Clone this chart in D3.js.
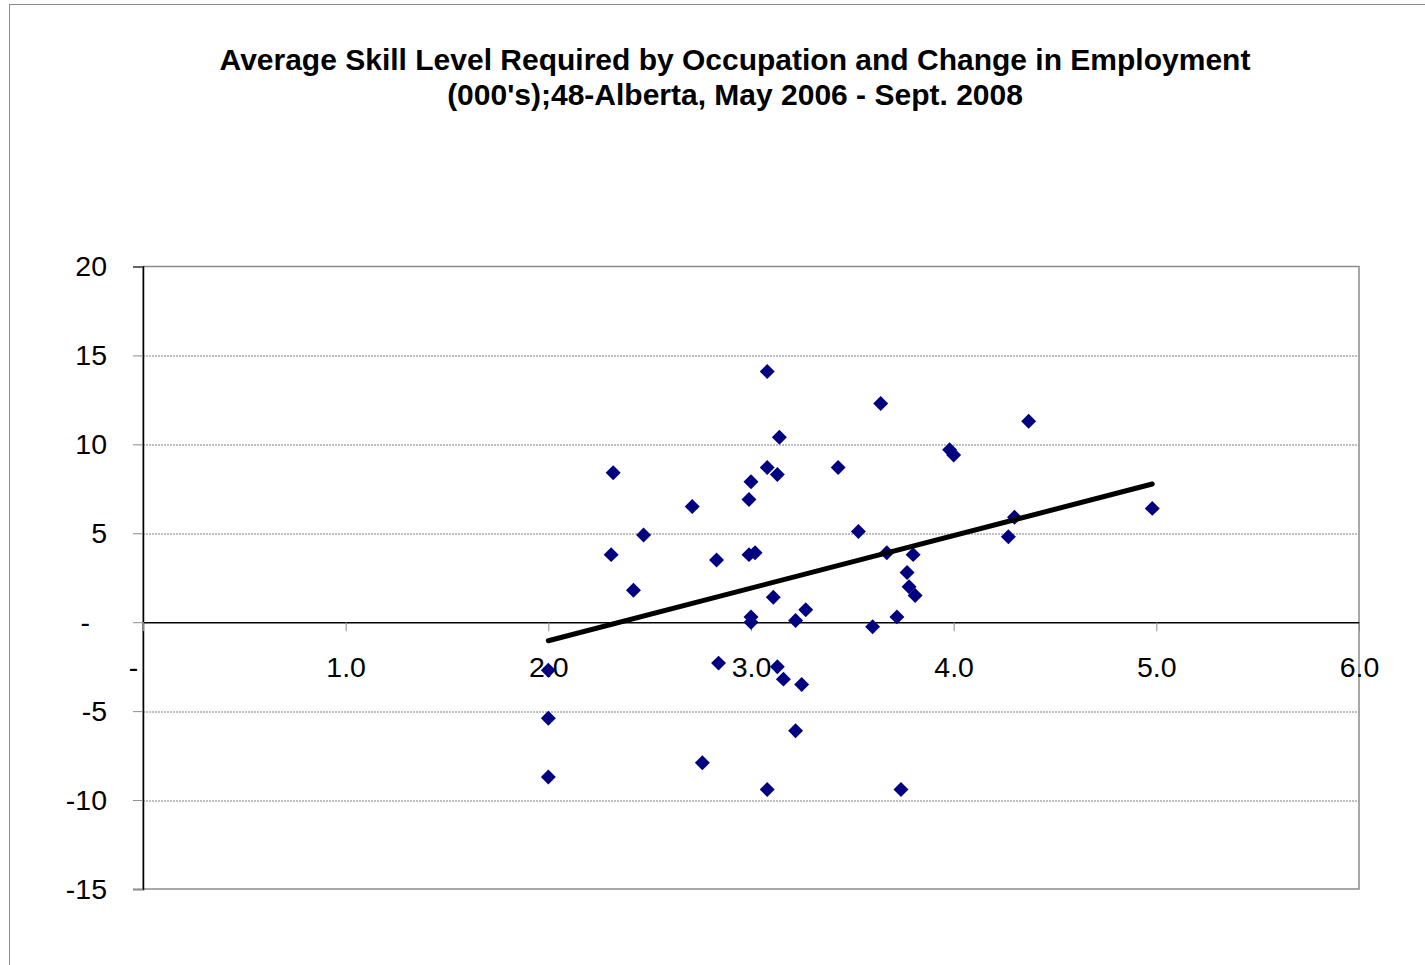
<!DOCTYPE html>
<html>
<head>
<meta charset="utf-8">
<script src="https://cdn.jsdelivr.net/npm/d3@7"></script>
<style>
    body { margin: 0; background: #fff; }
    text { font-family: "Liberation Sans", Arial, sans-serif; }
</style>
</head>
<body>
<div class="canvas"></div>
<script>
// skill level (x) and change in employment, 000's (y)
const skillLevel = [
    3.08, 3.64, 4.37, 3.14, 3.98, 4.0, 2.32, 3.08, 3.13, 3.43,
    3.0, 2.99, 2.71, 4.98, 4.3, 3.53, 2.47, 4.27, 2.31, 2.99,
    3.02, 2.83, 3.67, 3.8, 3.77, 2.42, 3.78, 3.81, 3.11, 3.27,
    3.0, 3.0, 3.22, 3.72, 3.6, 2.0, 2.84, 3.13, 3.16, 3.25,
    2.0, 3.22, 2.0, 2.76, 3.08, 3.74
];
const empChange = [
    14.1, 12.3, 11.3, 10.4, 9.7, 9.4, 8.4, 8.7, 8.3, 8.7,
    7.9, 6.9, 6.5, 6.4, 5.9, 5.1, 4.9, 4.8, 3.8, 3.8,
    3.9, 3.5, 3.9, 3.8, 2.8, 1.8, 2.0, 1.5, 1.4, 0.7,
    0.3, 0.0, 0.1, 0.3, -0.25, -2.7, -2.3, -2.5, -3.2, -3.5,
    -5.4, -6.1, -8.7, -7.9, -9.4, -9.4
];
// linear trend line end points
const trendX = [2.0, 4.98];
const trendY = [-1.04, 7.77];

const xTicks = [0, 1, 2, 3, 4, 5, 6];
const yTicks = [-15, -10, -5, 0, 5, 10, 15, 20];
const titleLines = [
    "Average Skill Level Required by Occupation and Change in Employment",
    "(000's);48-Alberta, May 2006 - Sept. 2008"
];

const width = 1425, height = 965;
const margin = { left: 143, right: 66, top: 266.5, bottom: 76 };
const chartDims = {
    width: width - margin.left - margin.right,
    height: height - margin.top - margin.bottom,
};

const svg = d3.select(".canvas")
    .append("svg")
    .attr("width", width)
    .attr("height", height);

// outer chart frame
svg.append("rect")
    .attr("x", 9.5).attr("y", 4.5)
    .attr("width", width).attr("height", height)
    .attr("fill", "#fff")
    .attr("stroke", "#8c8c8c")
    .attr("stroke-width", 1);

svg.append("g")
    .selectAll("text")
    .data(titleLines)
    .enter()
    .append("text")
    .attr("x", 735)
    .attr("y", (d, i) => 70 + i * 35)
    .attr("text-anchor", "middle")
    .attr("font-size", 30)
    .attr("font-weight", "bold")
    .text((d) => d);

const chart = svg.append("g")
    .attr("transform", `translate(${margin.left},${margin.top})`);

const x = d3.scaleLinear().domain([0, 6]).range([0, chartDims.width]);
const y = d3.scaleLinear().domain([-15, 20]).range([chartDims.height, 0]);

// dotted gridlines
chart.append("g")
    .selectAll("line")
    .data(yTicks.filter((d) => d !== 0 && d !== -15 && d !== 20))
    .enter()
    .append("line")
    .attr("x1", 0).attr("x2", chartDims.width)
    .attr("y1", (d) => Math.round(y(d)) + 0.5)
    .attr("y2", (d) => Math.round(y(d)) + 0.5)
    .attr("stroke", "#808080")
    .attr("stroke-dasharray", "2,1");

// plot area border
chart.append("rect")
    .attr("x", 0).attr("y", 0)
    .attr("width", chartDims.width).attr("height", chartDims.height)
    .attr("fill", "none")
    .attr("stroke", "#8c8c8c")
    .attr("stroke-width", 1.5);

// y axis
const yAxis = d3.axisLeft(y)
    .tickValues(yTicks)
    .tickSize(10)
    .tickPadding(26)
    .tickFormat((d) => (d === 0 ? "-" : d));
const yAxisGroup = chart.append("g").call(yAxis);
yAxisGroup.select(".domain").attr("stroke", "#000").attr("stroke-width", 1.5);
yAxisGroup.selectAll(".tick line").attr("stroke", "#8c8c8c");
yAxisGroup.selectAll("text")
    .attr("font-size", 28.5)
    .attr("font-family", "Liberation Sans, Arial, sans-serif")
    .attr("fill", "#000")
    .attr("dx", (d) => (d === 0 ? -17 : 0));

// x axis at zero
const xAxis = d3.axisBottom(x)
    .tickValues(xTicks)
    .tickSize(9)
    .tickSizeOuter(0)
    .tickPadding(26)
    .tickFormat((d) => (d === 0 ? "-" : d3.format(".1f")(d)));
const xAxisGroup = chart.append("g")
    .attr("transform", `translate(0,${y(0)})`)
    .call(xAxis);
xAxisGroup.select(".domain").attr("stroke", "#000").attr("stroke-width", 1.5);
xAxisGroup.selectAll(".tick line").attr("stroke", "#8c8c8c");
xAxisGroup.selectAll("text")
    .attr("font-size", 28.5)
    .attr("font-family", "Liberation Sans, Arial, sans-serif")
    .attr("fill", "#000")
    .attr("dx", (d) => (d === 0 ? -10 : 0));

// points
const points = skillLevel.map((d, i) => ({ x: d, y: empChange[i] }));
const diamond = d3.symbol().type(d3.symbolSquare).size(112);

chart.append("g")
    .selectAll("path")
    .data(points)
    .enter()
    .append("path")
    .attr("d", diamond)
    .attr("transform", (d) => `translate(${x(d.x)},${y(d.y)}) rotate(45)`)
    .attr("fill", "#000080");

// trend line
const lineGen = d3.line()
    .x((d) => x(d[0]))
    .y((d) => y(d[1]));

chart.append("path")
    .datum(trendX.map((d, i) => [d, trendY[i]]))
    .attr("d", lineGen)
    .attr("fill", "none")
    .attr("stroke", "#000")
    .attr("stroke-width", 5)
    .attr("stroke-linecap", "round");
</script>
</body>
</html>
